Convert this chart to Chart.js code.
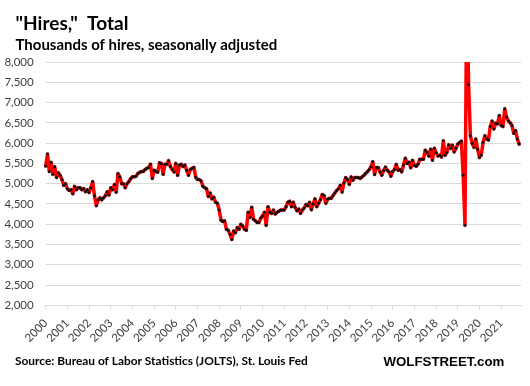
<!DOCTYPE html>
<html><head><meta charset="utf-8">
<script src="https://cdn.jsdelivr.net/npm/chart.js@4.4.1/dist/chart.umd.min.js"></script>
<style>html,body{margin:0;padding:0;background:#fff;}</style>
</head><body>
<canvas id="c" width="530" height="386" style="width:530px;height:386px;display:block"></canvas>
<script>
// Year tick labels (one label every 12 months, starting at the first point, Dec 2000)
const yearLabels = ['2000','2001','2002','2003','2004','2005','2006','2007','2008','2009','2010',
  '2011','2012','2013','2014','2015','2016','2017','2018','2019','2020','2021'];
const yTicks = [2000,2500,3000,3500,4000,4500,5000,5500,6000,6500,7000,7500,8000];

// Hires, thousands, SA — monthly, Dec 2000 .. Oct 2022 (rows of 12 months starting in December)
const hires2001 = [5433,5733,5300,5525,5233,5417,5150,5267,5200,5100,4958,5000];
const hires2002 = [4875,4833,4850,4750,4933,4850,4900,4900,4850,4880,4800,4850];
const hires2003 = [4780,4900,5050,4700,4458,4600,4650,4600,4650,4700,4800,4720];
const hires2004 = [4900,4850,4980,4790,5250,5170,5000,5000,4900,5000,5050,5120];
const hires2005 = [5170,5170,5180,5250,5280,5300,5300,5350,5380,5400,5480,5130];
const hires2006 = [5330,5300,5280,5517,5500,5233,5480,5480,5567,5420,5350,5290];
const hires2007 = [5500,5208,5460,5480,5420,5460,5330,5210,5350,5380,5400,5160];
const hires2008 = [5100,5100,5067,4933,4900,4875,4683,4767,4625,4667,4542,4517];
const hires2009 = [4350,4100,4067,4083,3875,3850,3750,3625,3833,3792,3917,3875];
const hires2010 = [4000,3958,3875,3850,4292,4167,4417,4125,4083,4042,4042,4150];
const hires2011 = [4208,4292,3975,4433,4292,4267,4350,4250,4292,4320,4350,4350];
const hires2012 = [4350,4433,4542,4567,4433,4542,4417,4333,4375,4267,4350,4400];
const hires2013 = [4483,4458,4542,4358,4500,4625,4433,4517,4600,4733,4708,4517];
const hires2014 = [4617,4642,4642,4708,4770,4833,4875,4958,4792,5017,5150,5100];
const hires2015 = [4983,5167,5083,5150,5150,5150,5125,5167,5200,5250,5292,5350];
const hires2016 = [5417,5542,5225,5400,5400,5290,5208,5325,5408,5330,5290,5183];
const hires2017 = [5300,5350,5475,5330,5350,5292,5458,5625,5500,5530,5392,5575];
const hires2018 = [5450,5430,5480,5600,5600,5600,5825,5770,5680,5850,5575,5875];
const hires2019 = [5770,5683,5700,5658,6058,5700,5770,5958,5870,5950,5783,5870];
const hires2020 = [5975,6017,6050,5208,3975,10000,7442,6183,5992,5892,6100,5850];
const hires2021 = [5642,5708,6017,6183,6100,6075,6408,6542,6350,6492,6475,6683];
const hires2022 = [6433,6408,6850,6642,6550,6500,6433,6242,6308,6100,5975];

const hires = [].concat(hires2001,hires2002,hires2003,hires2004,hires2005,hires2006,hires2007,
  hires2008,hires2009,hires2010,hires2011,hires2012,hires2013,hires2014,hires2015,hires2016,
  hires2017,hires2018,hires2019,hires2020,hires2021,hires2022);

// month categories (one extra slot at the end for the axis end)
const monthNames = ['Dec','Jan','Feb','Mar','Apr','May','Jun','Jul','Aug','Sep','Oct','Nov'];
const categories = [];
for (let i = 0; i <= hires.length; i++) {
  const m = i % 12;
  const y = 2000 + Math.floor(i / 12) + (m === 0 ? 0 : 1);
  categories.push(monthNames[m] + ' ' + y);
}

const TXT = '#404040';
const tickFont = {family: 'Lato', size: 11.5};

const textPlugin = {
  id: 'texts',
  afterDraw(chart) {
    const ctx = chart.ctx;
    function fit(text, weight, family, targetW, base) {
      ctx.font = weight + ' ' + base + 'px ' + family;
      const w = ctx.measureText(text).width;
      return base * targetW / w;
    }
    function draw(text, weight, family, size, x, y, color) {
      ctx.save();
      ctx.font = weight + ' ' + size + 'px ' + family;
      ctx.fillStyle = color;
      ctx.textAlign = 'left';
      ctx.textBaseline = 'alphabetic';
      ctx.fillText(text, x, y);
      ctx.restore();
    }
    const t1 = '"Hires,"  Total';
    draw(t1, 'bold', 'Lato', fit(t1, 'bold', 'Lato', 113, 20), 15.5, 29.5, '#000');
    const t2 = 'Thousands of hires, seasonally adjusted';
    draw(t2, 'bold', 'Lato', fit(t2, 'bold', 'Lato', 262, 14), 15.5, 49.5, '#000');
    const t3 = 'Source: Bureau of Labor Statistics (JOLTS), St. Louis Fed';
    draw(t3, 'bold', 'Lato', fit(t3, 'bold', 'Lato', 293, 11), 15, 365, '#000');
    const t4 = 'WOLFSTREET.com';
    draw(t4, 'bold', '"Liberation Sans"', fit(t4, 'bold', '"Liberation Sans"', 121, 13), 383.5, 365.5, '#000');
  }
};

new Chart(document.getElementById('c'), {
  type: 'line',
  data: {
    labels: categories,
    datasets: [{
      data: hires,
      borderColor: '#ff0000',
      borderWidth: 3.5,
      borderJoinStyle: 'round',
      borderCapStyle: 'round',
      tension: 0,
      pointRadius: 1.5,
      pointBorderWidth: 0,
      pointBackgroundColor: '#111',
      pointHoverRadius: 0
    }]
  },
  options: {
    responsive: false,
    animation: false,
    events: [],
    layout: {padding: {top: 62, right: 9, left: 0, bottom: 0}},
    plugins: {legend: {display: false}, tooltip: {enabled: false}, title: {display: false}},
    scales: {
      x: {
        type: 'category',
        offset: false,
        grid: {drawOnChartArea: false, drawTicks: true, tickLength: 4, color: '#d9d9d9'},
        border: {color: '#d9d9d9'},
        ticks: {
          autoSkip: false, maxRotation: 45, minRotation: 45,
          font: tickFont, color: TXT, padding: 7,
          callback: function(value, index) {
            if (index % 12 === 0 && index / 12 < yearLabels.length) return yearLabels[index / 12];
            return null;
          }
        },
        afterFit(s) { s.height = 80.7; }
      },
      y: {
        min: 2000, max: 8000,
        afterBuildTicks(s) { s.ticks = yTicks.map(v => ({value: v})); },
        ticks: {
          font: tickFont, color: TXT, padding: 12,
          callback: v => Number(v).toLocaleString('en-US')
        },
        grid: {color: '#d9d9d9', drawTicks: false},
        border: {display: false},
        afterFit(s) { s.width = 45.7; }
      }
    }
  },
  plugins: [textPlugin]
});
</script>
</body></html>
